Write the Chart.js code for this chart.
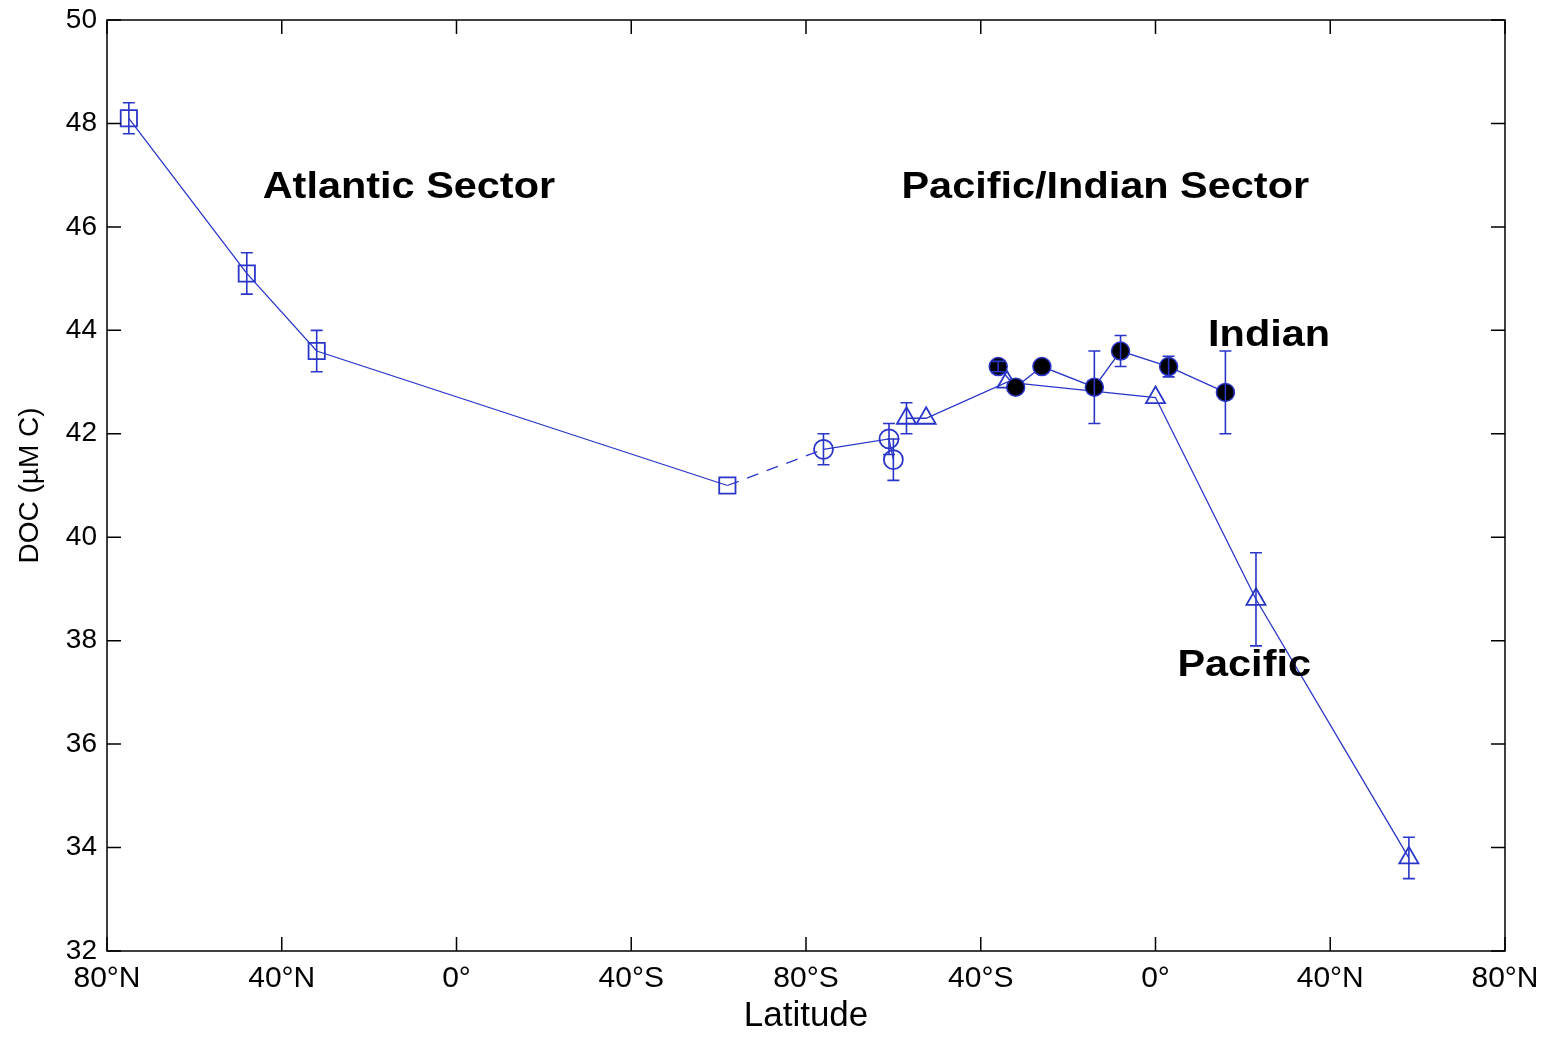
<!DOCTYPE html>
<html lang="en">
<head>
<meta charset="UTF-8" />
<title>DOC vs Latitude</title>
<script src="https://cdn.jsdelivr.net/npm/chart.js"></script>
<style>
  html, body { margin: 0; padding: 0; background: #fff; }
  #wrap { width: 1549px; height: 1037px; }
</style>
</head>
<body>
<div id="wrap"><canvas id="docChart" width="1549" height="1037"></canvas></div>
<script>
  // transect position: 0..160 = Atlantic (80N -> 80S), 160..320 = Pacific/Indian (80S -> 80N)
  const xTickPos = [0, 40, 80, 120, 160, 200, 240, 280, 320];
  const xTickLabels = ["80°N", "40°N", "0°", "40°S", "80°S", "40°S", "0°", "40°N", "80°N"];
  const yTicks = [32, 34, 36, 38, 40, 42, 44, 46, 48, 50];

  // latitude in degrees (N positive), DOC in µM C, error = half bar height
  const atlLat = [75, 48, 32, -62];
  const atlDoc = [48.1, 45.1, 43.6, 41.0];
  const atlErr = [0.3, 0.4, 0.4, 0];

  const soLat = [-76, -61, -60];
  const soDoc = [41.7, 41.9, 41.5];
  const soErr = [0.3, 0.3, 0.4];

  const pacLat = [-57, -52.5, -34, 0, 23, 58];
  const pacDoc = [42.3, 42.3, 43.0, 42.7, 38.8, 33.8];
  const pacErr = [0.3, 0, 0, 0, 0.9, 0.4];

  const indLat = [-36, -32, -26, -14, -8, 3, 16];
  const indDoc = [43.3, 42.9, 43.3, 42.9, 43.6, 43.3, 42.8];
  const indErr = [0.1, 0, 0, 0.7, 0.3, 0.2, 0.8];

  const atlPos = lat => 80 - lat;
  const pipPos = lat => 240 + lat;

  const blue = "#2a36c8";
  const fontFam = "'Liberation Sans', Arial, Helvetica, sans-serif";
  Chart.defaults.font.family = fontFam;
  Chart.defaults.color = "#000";

  const pts = (lats, vals, f) => lats.map((la, i) => ({ x: f(la), y: vals[i] }));

  const errorBars = {
    id: "errorBars",
    afterDatasetsDraw(chart) {
      const ctx = chart.ctx, xs = chart.scales.x, ys = chart.scales.y;
      ctx.save();
      ctx.strokeStyle = blue;
      ctx.lineWidth = 1.6;
      chart.data.datasets.forEach(ds => {
        if (!ds.errs) return;
        ds.data.forEach((p, j) => {
          const e = ds.errs[j];
          if (!e) return;
          const x = xs.getPixelForValue(p.x);
          const y1 = ys.getPixelForValue(p.y + e);
          const y2 = ys.getPixelForValue(p.y - e);
          ctx.beginPath();
          ctx.moveTo(x, y1); ctx.lineTo(x, y2);
          ctx.moveTo(x - 6, y1); ctx.lineTo(x + 6, y1);
          ctx.moveTo(x - 6, y2); ctx.lineTo(x + 6, y2);
          ctx.stroke();
        });
      });
      ctx.restore();
    }
  };

  // box + inward ticks like the original plot
  const frame = {
    id: "frame",
    afterDraw(chart) {
      const { ctx, chartArea: a } = chart;
      const xs = chart.scales.x, ys = chart.scales.y;
      const tl = 14;
      ctx.save();
      ctx.strokeStyle = "#000";
      ctx.lineWidth = 1.5;
      ctx.strokeRect(a.left, a.top, a.right - a.left, a.bottom - a.top);
      ctx.beginPath();
      xTickPos.forEach(v => {
        const x = xs.getPixelForValue(v);
        ctx.moveTo(x, a.bottom); ctx.lineTo(x, a.bottom - tl);
        ctx.moveTo(x, a.top); ctx.lineTo(x, a.top + tl);
      });
      yTicks.forEach(v => {
        const y = ys.getPixelForValue(v);
        ctx.moveTo(a.left, y); ctx.lineTo(a.left + tl, y);
        ctx.moveTo(a.right, y); ctx.lineTo(a.right - tl, y);
      });
      ctx.stroke();
      ctx.restore();
    }
  };

  const notes = {
    id: "notes",
    afterDraw(chart) {
      const ctx = chart.ctx, xs = chart.scales.x, ys = chart.scales.y;
      const items = [
        { t: "Atlantic Sector", x: 69.1, y: 46.56 },
        { t: "Pacific/Indian Sector", x: 228.5, y: 46.56 },
        { t: "Indian", x: 266.0, y: 43.70 },
        { t: "Pacific", x: 260.3, y: 37.32 }
      ];
      ctx.save();
      ctx.fillStyle = "#000";
      ctx.font = "bold 37px " + fontFam;
      ctx.textAlign = "center";
      ctx.textBaseline = "alphabetic";
      items.forEach(n => {
        ctx.save();
        ctx.translate(xs.getPixelForValue(n.x), ys.getPixelForValue(n.y));
        ctx.scale(1.12, 1); // original text is a little wider than it is tall
        ctx.fillText(n.t, 0, 0);
        ctx.restore();
      });
      ctx.restore();
    }
  };

  new Chart(document.getElementById("docChart"), {
    type: "line",
    data: {
      datasets: [
        {
          label: "Indian",
          data: pts(indLat, indDoc, pipPos),
          errs: indErr,
          borderColor: blue, borderWidth: 1.3,
          pointStyle: "circle", pointRadius: 9,
          pointBackgroundColor: "#000", pointBorderColor: blue, pointBorderWidth: 1.5,
          order: 0
        },
        {
          label: "Pacific",
          data: pts(pacLat, pacDoc, pipPos),
          errs: pacErr,
          borderColor: blue, borderWidth: 1.3,
          pointStyle: "triangle", pointRadius: 11,
          pointBackgroundColor: "rgba(0,0,0,0)", pointBorderColor: blue, pointBorderWidth: 1.8,
          order: 1
        },
        {
          label: "Southern",
          data: pts(soLat, soDoc, pipPos),
          errs: soErr,
          borderColor: blue, borderWidth: 1.3,
          pointStyle: "circle", pointRadius: 9.5,
          pointBackgroundColor: "rgba(0,0,0,0)", pointBorderColor: blue, pointBorderWidth: 1.8,
          order: 2
        },
        {
          label: "Atlantic",
          data: pts(atlLat, atlDoc, atlPos),
          errs: atlErr,
          borderColor: blue, borderWidth: 1.3,
          pointStyle: "rect", pointRadius: 11.5,
          pointBackgroundColor: "rgba(0,0,0,0)", pointBorderColor: blue, pointBorderWidth: 1.8,
          order: 3
        },
        {
          label: "link",
          data: [
            { x: atlPos(atlLat[atlLat.length - 1]), y: atlDoc[atlDoc.length - 1] },
            { x: pipPos(soLat[0]), y: soDoc[0] }
          ],
          borderColor: blue, borderWidth: 1.3, borderDash: [12, 9],
          pointRadius: 0,
          order: 4
        }
      ]
    },
    options: {
      responsive: false,
      animation: false,
      events: [],
      layout: { padding: { top: 20, right: 44, left: 0, bottom: 0 } },
      plugins: { legend: { display: false }, tooltip: { enabled: false } },
      scales: {
        x: {
          type: "linear", min: 0, max: 320,
          afterBuildTicks: s => { s.ticks = xTickPos.map(v => ({ value: v })); },
          afterFit: s => { s.height = 86; s.paddingLeft = 0; s.paddingRight = 0; },
          grid: { display: false, drawTicks: false },
          border: { display: false },
          ticks: {
            padding: 10, maxRotation: 0, autoSkip: false,
            font: { size: 30 },
            callback: (v) => xTickLabels[xTickPos.indexOf(v)]
          },
          title: { display: true, text: "Latitude", font: { size: 35 }, padding: { top: 0, bottom: 0 } }
        },
        y: {
          min: 32, max: 50,
          afterBuildTicks: s => { s.ticks = yTicks.map(v => ({ value: v })); },
          afterFit: s => { s.width = 107; s.paddingTop = 0; s.paddingBottom = 0; },
          grid: { display: false, drawTicks: false },
          border: { display: false },
          ticks: { padding: 10, font: { size: 28 } },
          title: { display: true, text: "DOC (µM C)", font: { size: 28 }, padding: { top: 13, bottom: 0 } }
        }
      }
    },
    plugins: [errorBars, frame, notes]
  });
</script>
</body>
</html>
